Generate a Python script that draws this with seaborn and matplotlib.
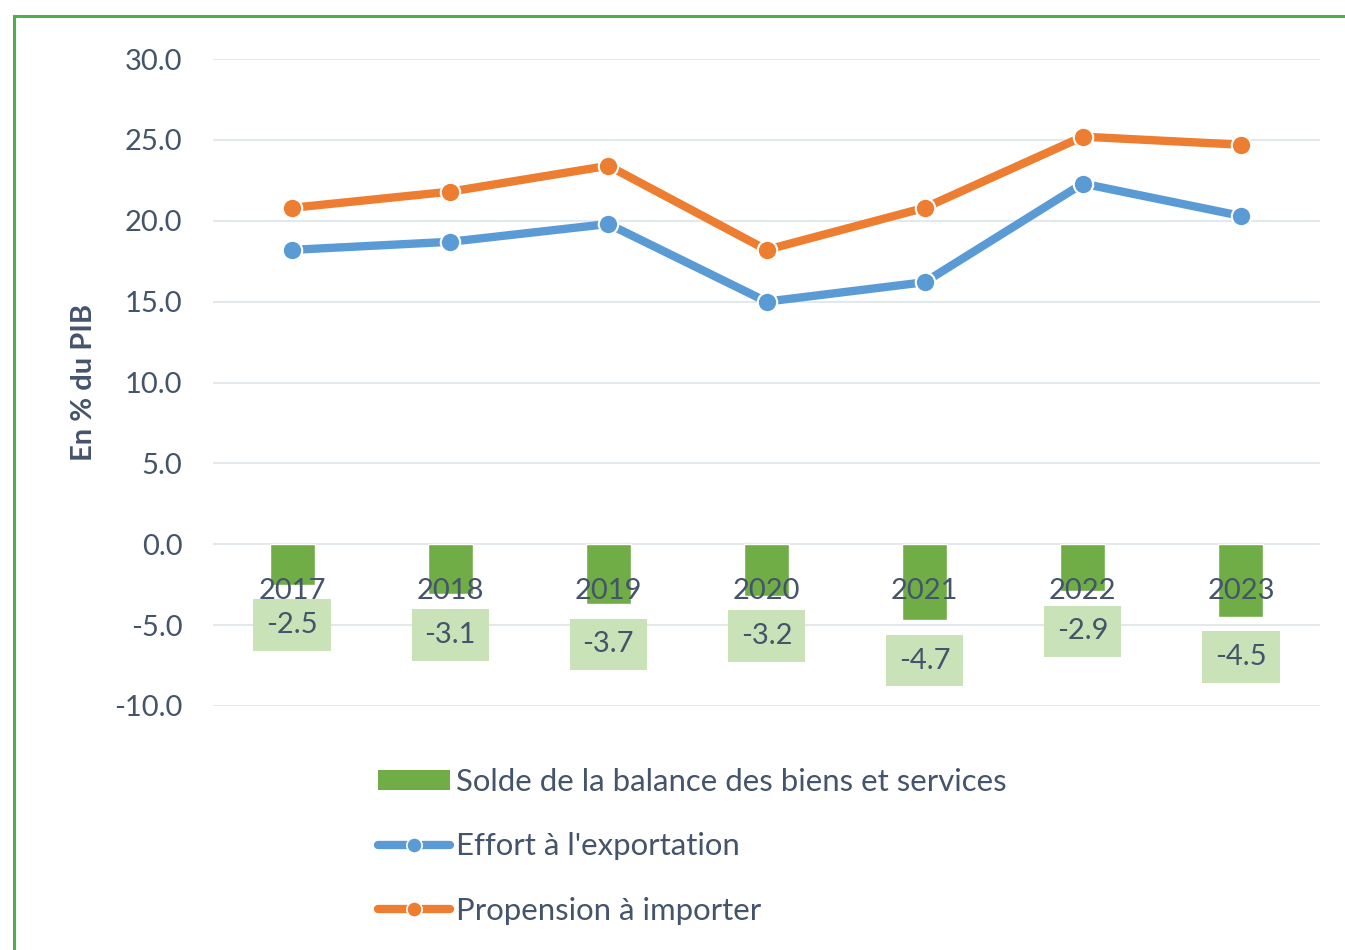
import matplotlib
matplotlib.use("Agg")
import matplotlib.pyplot as plt
import seaborn as sns
import pandas as pd
from matplotlib.patches import Patch, Rectangle
from matplotlib.lines import Line2D

years = ["2017", "2018", "2019", "2020", "2021", "2022", "2023"]
solde = [-2.5, -3.1, -3.7, -3.2, -4.7, -2.9, -4.5]
effort_export = [18.2, 18.7, 19.8, 15.0, 16.2, 22.3, 20.3]
propension_import = [20.8, 21.8, 23.4, 18.2, 20.8, 25.2, 24.7]
y_ticks = [-10, -5, 0, 5, 10, 15, 20, 25, 30]

label_solde = "Solde de la balance des biens et services"
label_export = "Effort à l'exportation"
label_import = "Propension à importer"
y_title = "En % du PIB"

GREEN = "#70ad47"
LIGHT_GREEN = "#c9e2b8"
BLUE = "#5b9bd5"
ORANGE = "#ed7d31"
TEXT = "#44546a"
GRID = "#e3e8ec"

df = pd.DataFrame({"year": years, "solde": solde,
                   "export": effort_export, "import": propension_import})

sns.set_theme(style="white")
plt.rcParams["font.family"] = ["Lato", "DejaVu Sans"]

fig = plt.figure(figsize=(13.45, 9.5), dpi=100)
ax = fig.add_axes([213/1345, 1-706/950, (1320-213)/1345, (706-59)/950])

sns.barplot(data=df, x="year", y="solde", color=GREEN, width=0.285,
            saturation=1, ax=ax, zorder=2)
for col, c in [("export", BLUE), ("import", ORANGE)]:
    sns.pointplot(data=df, x="year", y=col, color=c, errorbar=None, ax=ax,
                  markers="o", linestyles="-", linewidth=6, markersize=14,
                  markeredgecolor="white", markeredgewidth=1.5, zorder=4)

ax.set_xlim(-0.5, len(years) - 0.5)
ax.set_ylim(min(y_ticks), max(y_ticks))
ax.set_yticks(y_ticks)
ax.set_yticklabels([f"{v:.1f}" for v in y_ticks], fontsize=21, color=TEXT)
ax.tick_params(axis="y", length=0, pad=22)
ax.set_xticks([])
ax.set_xlabel("")
ax.set_ylabel(y_title, fontsize=21, fontweight="bold", color=TEXT, labelpad=12)
ax.yaxis.grid(True, color=GRID, linewidth=1.5, zorder=0)
ax.set_axisbelow(True)
for s in ax.spines.values():
    s.set_visible(False)

for i, (yr, v) in enumerate(zip(years, solde)):
    ax.annotate(yr, xy=(i, 0), xytext=(0, -33.5), textcoords="offset points",
                ha="center", va="center", fontsize=21, color=TEXT, zorder=5)
    ax.annotate(f"{v:.1f}", xy=(i, v), xytext=(0, -29), textcoords="offset points",
                ha="center", va="center", fontsize=21, color=TEXT, zorder=5,
                bbox=dict(boxstyle="square,pad=0.44", facecolor=LIGHT_GREEN,
                          edgecolor="none"))

handles = [
    Patch(facecolor=GREEN, edgecolor="none", label=label_solde),
    Line2D([0], [0], color=BLUE, lw=6, marker="o", markersize=11,
           markeredgecolor="white", markeredgewidth=1.2, label=label_export),
    Line2D([0], [0], color=ORANGE, lw=6, marker="o", markersize=11,
           markeredgecolor="white", markeredgewidth=1.2, label=label_import),
]
leg = fig.legend(handles=handles, loc="upper left",
                 bbox_to_anchor=(378/1345, 1-768/950), frameon=False,
                 fontsize=22.4, handlelength=2.3, handleheight=0.6,
                 handletextpad=0.22, labelspacing=1.17, borderpad=0,
                 borderaxespad=0)
for t in leg.get_texts():
    t.set_color(TEXT)

fig.patches.append(Rectangle((14/1345, -0.1), 1.2, 1.1 - 16/950,
                             transform=fig.transFigure, fill=False,
                             edgecolor="#4cb04c", linewidth=2.2))

fig.savefig("out.png", dpi=100)
